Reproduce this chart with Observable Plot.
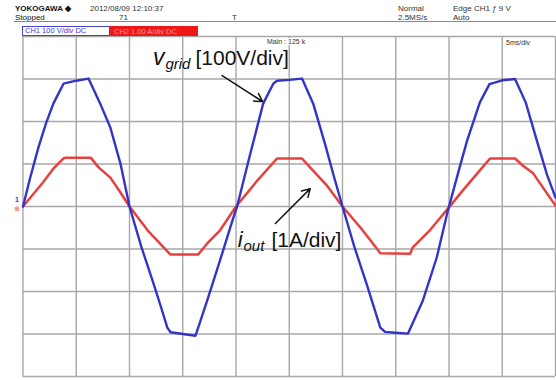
<!DOCTYPE html>
<html><head><meta charset="utf-8">
<script src="https://cdn.jsdelivr.net/npm/d3@7"></script>
<script src="https://cdn.jsdelivr.net/npm/@observablehq/plot@0.6"></script>
<style>
body{margin:0;background:#fff;}
#wrap{position:relative;width:556px;height:380px;overflow:hidden;font-family:"Liberation Sans Narrow","Liberation Sans",Arial,sans-serif;}
#chart{position:absolute;left:0;top:0;}
.h{position:absolute;font-size:8px;color:#333;line-height:1;white-space:nowrap;}
#rule{position:absolute;left:14px;top:21px;width:542px;border-top:1px solid #888;}
#ch1{position:absolute;left:22px;top:26px;width:86px;height:8px;border:1px solid #4444dd;}
#ch2{position:absolute;left:110px;top:26px;width:88px;height:10px;background:#ee1818;}
</style></head><body>
<div id="wrap">
<div id="chart"></div>
<div class="h" style="left:15px;top:5px;font-weight:bold;color:#111;">YOKOGAWA ◆</div>
<div class="h" style="left:90px;top:5px;">2012/08/09 12:10:37</div>
<div class="h" style="left:15px;top:14px;color:#111;">Stopped</div>
<div class="h" style="left:119px;top:14px;">71</div>
<div class="h" style="left:232px;top:14px;">T</div>
<div class="h" style="left:398px;top:5px;">Normal</div>
<div class="h" style="left:398px;top:14px;">2.5MS/s</div>
<div class="h" style="left:453px;top:5px;">Edge CH1 ƒ 9 V</div>
<div class="h" style="left:453px;top:14px;">Auto</div>
<div id="rule"></div>
<div id="ch1"></div>
<div id="ch2"></div>
<div class="h" style="left:25px;top:27px;color:#3a3ad8;font-size:7.5px;">CH1 100 V/div DC</div>
<div class="h" style="left:114px;top:28px;color:#ff9a9a;font-size:7.5px;">CH2 1.00 A/div DC</div>
<div class="h" style="left:267px;top:38px;font-size:7px;background:#fff;">Main : 125 k</div>
<div class="h" style="left:506px;top:39px;font-size:7px;">5ms/div</div>
<div class="h" style="left:15px;top:196px;color:#3a3ad8;font-weight:bold;font-size:7px;">1</div>
<div class="h" style="left:14px;top:205px;color:#e05050;font-size:7px;">⊕</div>
</div>
<script>
// horizontal: 5 ms/div, vertical: 100 V/div (CH1), 1 A/div (CH2)
const voltsPerDiv = 100;
const ampsPerDiv = 1;
const timeTicksMs = [0,5,10,15,20,25,30,35,40,45,50];
const divTicks = [-4,-3,-2,-1,0,1,2,3,4];

// v_grid trace (ms, V)
const vTimeMs = [0,0.7,1.45,2.15,2.85,3.8,5.0,6.15,7.25,8.2,9.15,10.0,11.1,12.25,13.0,13.55,13.85,15.0,16.2,17.3,18.5,19.75,20.1,21.3,22.55,23.5,23.85,25.0,26.2,27.25,28.35,29.2,30.0,31.1,32.3,33.55,34.0,35.0,36.15,37.55,38.85,39.9,41.0,41.7,42.9,43.8,45.0,46.2,47.2,48.25,49.2,50.0];
const vGrid   = [0,70,139,195,242,289,296,301,242,186,101,0,-94,-181,-240,-285,-296,-300,-304,-221,-127,-26,0,120,242,289,296,298,301,242,148,70,0,-94,-185,-285,-295,-297,-299,-221,-120,-9,92,155,245,288,297,300,245,155,75,21];

// i_out trace (ms, A)
const iTimeMs = [0,1.85,2.85,3.8,4.0,6.35,7.1,8.2,9.15,10.0,11.7,13.2,13.85,16.45,17.3,18.5,20.0,22.0,23.85,26.2,26.95,28.55,30.0,31.7,33.0,33.55,36.35,36.6,38.2,39.9,41.3,42.9,43.85,46.2,46.95,47.9,50.0];
const iOut    = [0,0.56,0.89,1.13,1.15,1.15,0.92,0.68,0.33,0,-0.56,-0.96,-1.13,-1.13,-0.87,-0.56,0,0.61,1.13,1.13,0.92,0.49,0,-0.5,-0.92,-1.1,-1.11,-0.96,-0.56,-0.05,0.38,0.85,1.13,1.13,0.96,0.78,0.02];

// annotations (ms, divisions)
const arrowFromMs = [18.7, 23.7];
const arrowFromDiv = [3.08, -0.4];
const arrowToMs = [22.5, 26.97];
const arrowToDiv = [2.47, 0.42];
const labelMs = [12.25, 20.2];
const labelDiv = [3.32, -0.97];
const labelMain = ["v", "i"];
const labelSub = ["grid", "out"];
const labelUnit = ["[100V/div]", "[1A/div]"];

const vData = vTimeMs.map((t,k)=>({t, v:vGrid[k]}));
const iData = iTimeMs.map((t,k)=>({t, i:iOut[k]}));
const arrows = arrowFromMs.map((t,k)=>({x1:t,y1:arrowFromDiv[k],x2:arrowToMs[k],y2:arrowToDiv[k]}));

const plot = Plot.plot({
  width: 556, height: 380,
  marginLeft: 22.5, marginRight: 1, marginTop: 36, marginBottom: 4,
  x: {domain:[0,50], axis:null},
  y: {domain:[-4,4], axis:null},
  style: {background:"transparent", overflow:"visible"},
  marks: [
    Plot.gridX(timeTicksMs, {stroke:"#a8a8a8", strokeOpacity:1, strokeWidth:1.4}),
    Plot.gridY(divTicks, {stroke:"#a8a8a8", strokeOpacity:1, strokeWidth:1.4}),
    Plot.line(iData, {x:"t", y:d=>d.i/ampsPerDiv, stroke:"#e8403f", strokeWidth:2.5, curve:"linear"}),
    Plot.line(vData, {x:"t", y:d=>d.v/voltsPerDiv, stroke:"#3434c8", strokeWidth:2.4, curve:"linear"}),
    Plot.arrow(arrows, {x1:"x1", y1:"y1", x2:"x2", y2:"y2", stroke:"#111", strokeWidth:1.5, headLength:9})
  ]
});
document.getElementById("chart").appendChild(plot);

const sx = plot.scale("x"), sy = plot.scale("y");
const svg = d3.select(plot);
labelMs.forEach((t,k)=>{
  const txt = svg.append("text")
    .attr("x", sx.apply(t)).attr("y", sy.apply(labelDiv[k]))
    .attr("text-anchor", "start")
    .attr("font-family", "'Liberation Sans', Arial, sans-serif")
    .attr("fill", "#111");
  txt.append("tspan").attr("font-style","italic").attr("font-size", k===0?23:22).text(labelMain[k]);
  txt.append("tspan").attr("font-style","italic").attr("font-size",15).attr("dy",4).attr("dx",1).text(labelSub[k]);
  txt.append("tspan").attr("font-size",21).attr("dy",-4).attr("dx",k===0?5:7).text(labelUnit[k]);
});
</script>
</body></html>
